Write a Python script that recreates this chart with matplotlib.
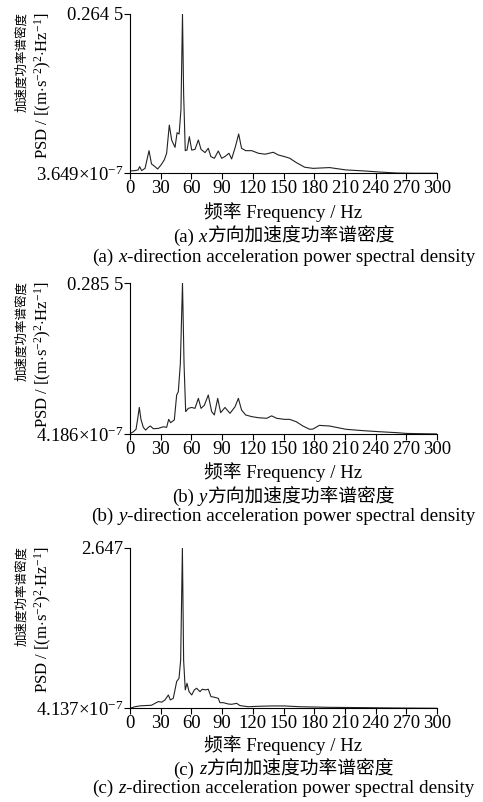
import matplotlib
matplotlib.use("Agg")
import matplotlib.pyplot as plt

plt.rcParams['font.family'] = ['Liberation Serif', 'Noto Sans CJK SC']
plt.rcParams['mathtext.fontset'] = 'custom'
plt.rcParams['mathtext.rm'] = 'Liberation Serif'
plt.rcParams['mathtext.it'] = 'Liberation Serif:italic'

# x 方向
freq_x = [0, 4.9, 8, 9.4, 11.4, 14.7, 18.6, 21, 24.4, 27, 30.3, 33.5, 35.8, 38.4, 40.7,
          44, 46, 48, 49.8, 51.3, 52.4, 54, 55.7, 58, 60.3, 63.5, 66.8, 69.4, 73.3,
          76.5, 79, 82.4, 86.3, 89.6, 92.8, 96.7, 99.3, 103, 106.2, 109, 113, 119,
          125.4, 132, 140, 145, 150.8, 156, 162.6, 170.7, 178.8, 195, 211, 228, 244,
          260, 277, 300]
psd_x = [0.0040, 0.0045, 0.0055, 0.0111, 0.0045, 0.0082, 0.0376, 0.0156, 0.0111, 0.0071,
         0.0138, 0.0222, 0.0333, 0.0801, 0.0553, 0.0431, 0.0674, 0.0653, 0.1058, 0.2645,
         0.1323, 0.0376, 0.0386, 0.0608, 0.0386, 0.0397, 0.0553, 0.0397, 0.0344, 0.0415,
         0.0278, 0.0249, 0.0370, 0.0249, 0.0278, 0.0333, 0.0238, 0.0442, 0.0653, 0.0415,
         0.0376, 0.0376, 0.0333, 0.0317, 0.0349, 0.0304, 0.0278, 0.0251, 0.0177, 0.0101,
         0.0082, 0.0095, 0.0056, 0.0040, 0.0021, 0.0005, 0.0001, 0.00005]

# y 方向
freq_y = [0, 3.3, 5.9, 7.5, 9.1, 10.7, 13, 15.3, 17.9, 19.9, 22.8, 27.7, 32.6, 35.8, 37.8,
          39.7, 43.3, 45.6, 47.2, 49.2, 51.3, 52.8, 54.4, 57, 60.3, 63.5, 66.8, 69.4,
          72.6, 76.5, 79.8, 82.4, 85.7, 88.6, 92.8, 97.7, 102.6, 105.9, 109, 113, 119,
          125.4, 133.6, 138.4, 143.3, 150.8, 156, 162.6, 169, 175.5, 178.8, 185, 195,
          211, 228, 244, 260, 270, 283, 300]
psd_y = [0.0005, 0.0043, 0.0089, 0.0286, 0.0502, 0.0277, 0.0126, 0.0074, 0.0126, 0.0151,
         0.0100, 0.0106, 0.0137, 0.0126, 0.0277, 0.0214, 0.0266, 0.0737, 0.0799, 0.1333,
         0.2855, 0.1333, 0.0423, 0.0485, 0.0502, 0.0485, 0.0674, 0.0485, 0.0542, 0.0737,
         0.0423, 0.0360, 0.0674, 0.0403, 0.0502, 0.0391, 0.0514, 0.0674, 0.0454, 0.0360,
         0.0328, 0.0308, 0.0297, 0.0343, 0.0297, 0.0277, 0.0277, 0.0231, 0.0151, 0.0089,
         0.0094, 0.0163, 0.0151, 0.0089, 0.0063, 0.0043, 0.0026, 0.0011, 0.0006, 0.0001]

# z 方向
freq_z = [0, 4.9, 9.8, 14.7, 21, 24.4, 27.7, 31, 34.2, 37.5, 39.4, 42.3, 45.6, 47.9, 49.5,
          51.2, 52.4, 54, 55.7, 57.7, 60.3, 62.9, 65.1, 68.4, 70.7, 73.9, 76.5, 79.1,
          82.4, 86.3, 87.9, 91.2, 96.1, 99.3, 104.2, 107.5, 115.6, 125.4, 138.4, 150.8,
          165.5, 195, 228, 260, 300]
psd_z = [0.001, 0.026, 0.040, 0.045, 0.050, 0.082, 0.111, 0.101, 0.138, 0.220, 0.138,
         0.165, 0.442, 0.496, 0.794, 2.647, 0.794, 0.304, 0.413, 0.275, 0.220, 0.304,
         0.331, 0.275, 0.315, 0.304, 0.315, 0.193, 0.183, 0.165, 0.093, 0.093, 0.071,
         0.066, 0.082, 0.045, 0.026, 0.033, 0.039, 0.039, 0.026, 0.016, 0.011, 0.005,
         0.0005]

y_min = [3.649e-7, 4.186e-7, 4.137e-7]
y_max = [0.2645, 0.2855, 2.647]
min_labels = [r'3.649$\times$10$^{-7}$', r'4.186$\times$10$^{-7}$', r'4.137$\times$10$^{-7}$']
max_labels = ['0.264 5', '0.285 5', '2.647']
x_ticks = [0, 30, 60, 90, 120, 150, 180, 210, 240, 270, 300]
panel_tags = ['(a)', '(b)', '(c)']
axis_names = ['x', 'y', 'z']
cap_cn_tail = '方向加速度功率谱密度'
cap_en_tail = '-direction acceleration power spectral density'

freqs = [freq_x, freq_y, freq_z]
psds = [psd_x, psd_y, psd_z]

W, H = 483, 802
fig = plt.figure(figsize=(W / 100, H / 100), dpi=100)
renderer = fig.canvas.get_renderer()

# 像素位置 (上, 下) 以及文字行的 y 像素
ax_top = [14, 283, 548]
ax_bot = [173.3, 434, 708.3]
xlabel_y = [212, 471.7, 745]
cn_y = [237, 497.7, 770]
en_y = [257, 516.7, 788.3]
ax_left, ax_right = 130, 437
fs = 13.5
cx_px = (ax_left + ax_right) / 2


def place_parts(y_px, parts, size):
    # 分段写文字（斜体字母 + 中文），按总宽度居中
    texts, gaps = [], []
    for s, st, gap in parts:
        texts.append(fig.text(0, 1 - y_px / H, s, fontsize=size, style=st,
                              ha='left', va='center'))
        gaps.append(gap * size * 100 / 72)
    widths = [t.get_window_extent(renderer).width for t in texts]
    x = cx_px - (sum(widths) + sum(gaps)) / 2
    for t, w, g in zip(texts, widths, gaps):
        x += g
        t.set_x(x / W)
        x += w


for i in range(3):
    ax = fig.add_axes([ax_left / W, 1 - ax_bot[i] / H, (ax_right - ax_left) / W,
                       (ax_bot[i] - ax_top[i]) / H])
    ax.plot(freqs[i], psds[i], color='#222222', lw=0.8)
    ax.set_xlim(0, 300)
    ax.set_ylim(y_min[i], y_max[i])
    ax.set_xticks(x_ticks)
    ax.set_yticks([y_min[i], y_max[i]])
    ax.set_yticklabels([min_labels[i], max_labels[i]])
    ax.spines['top'].set_visible(False)
    ax.spines['right'].set_visible(False)
    for s in ['left', 'bottom']:
        ax.spines[s].set_linewidth(0.8)
    ax.tick_params(direction='out', length=4, width=0.8, labelsize=fs, pad=1)

    fig.text(cx_px / W, 1 - xlabel_y[i] / H, '频率 Frequency / Hz', ha='center',
             va='center', fontsize=fs)
    place_parts(cn_y[i], [(panel_tags[i], 'normal', 0), (axis_names[i], 'italic', 0.25),
                          (cap_cn_tail, 'normal', 0)], fs)
    place_parts(en_y[i], [(panel_tags[i], 'normal', 0), (axis_names[i], 'italic', 0.25),
                          (cap_en_tail, 'normal', 0)], 13.75)

    top = 1 - (ax_top[i] - 2) / H
    fig.text(22 / W, top, '加速度功率谱密度', rotation=90, ha='center', va='top', fontsize=9)
    fig.text(43 / W, top, r'PSD / [(m$\cdot$s$^{-2}$)$^{2}$$\cdot$Hz$^{-1}$]', rotation=90,
             ha='center', va='top', fontsize=12)

fig.savefig('out.png', dpi=100)
